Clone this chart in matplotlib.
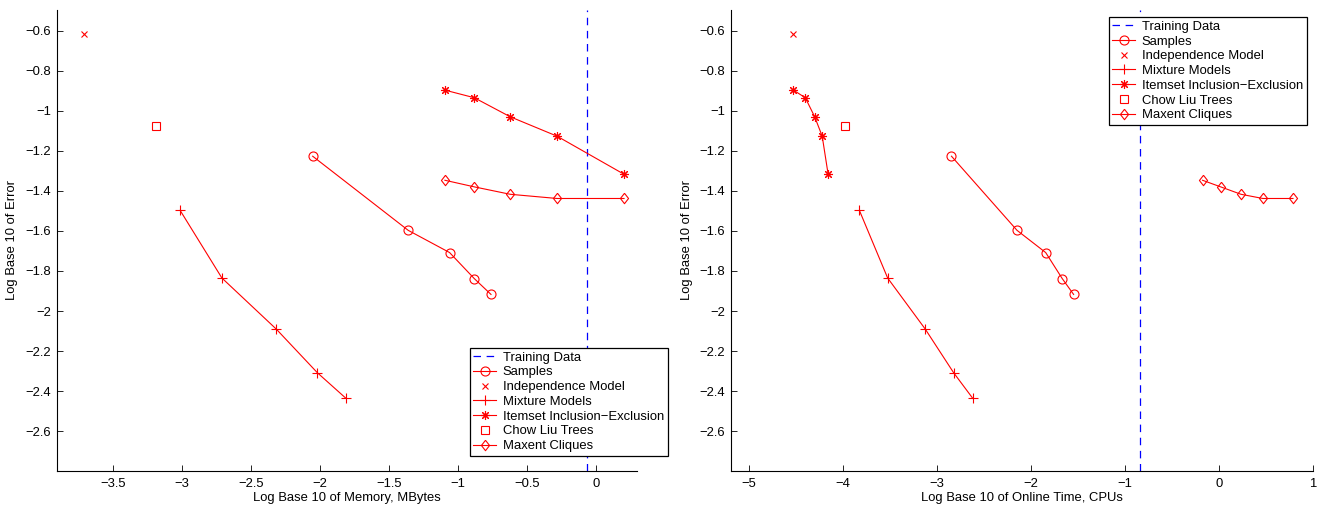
import matplotlib
matplotlib.use("Agg")
import matplotlib.pyplot as plt

plt.rcParams['font.family'] = ['Liberation Sans', 'DejaVu Sans']

# ---- data: left panel (memory) ----
mem_train = -0.067
mem_samples_x = [-2.053, -1.361, -1.061, -0.882, -0.761]
mem_indep_x = [-3.711]
mem_mix_x = [-3.014, -2.711, -2.317, -2.019, -1.813]
mem_item_x = [-1.095, -0.882, -0.622, -0.282, 0.203]
mem_chow_x = [-3.19]
mem_maxent_x = [-1.095, -0.882, -0.622, -0.282, 0.203]

# ---- data: right panel (online time) ----
cpu_train = -0.845
cpu_samples_x = [-2.845, -2.148, -1.843, -1.667, -1.546]
cpu_indep_x = [-4.53]
cpu_mix_x = [-3.825, -3.524, -3.124, -2.822, -2.62]
cpu_item_x = [-4.526, -4.40, -4.30, -4.22, -4.157]
cpu_chow_x = [-3.982]
cpu_maxent_x = [-0.175, 0.018, 0.234, 0.467, 0.787]

# ---- shared errors ----
err_samples = [-1.227, -1.597, -1.708, -1.838, -1.917]
err_indep = [-0.618]
err_mix = [-1.497, -1.835, -2.09, -2.308, -2.435]
err_item = [-0.897, -0.935, -1.03, -1.127, -1.317]
err_chow = [-1.077]
err_maxent = [-1.347, -1.38, -1.417, -1.438, -1.438]

labels = ["Training Data", "Samples", "Independence Model", "Mixture Models",
          "Itemset Inclusion\u2212Exclusion", "Chow Liu Trees", "Maxent Cliques"]

y_ticks = [-0.6, -0.8, -1, -1.2, -1.4, -1.6, -1.8, -2, -2.2, -2.4, -2.6]
y_ticklabels = ["\u22120.6", "\u22120.8", "\u22121", "\u22121.2", "\u22121.4", "\u22121.6",
                "\u22121.8", "\u22122", "\u22122.2", "\u22122.4", "\u22122.6"]
mem_ticks = [-3.5, -3, -2.5, -2, -1.5, -1, -0.5, 0]
mem_ticklabels = ["\u22123.5", "\u22123", "\u22122.5", "\u22122", "\u22121.5", "\u22121", "\u22120.5", "0"]
cpu_ticks = [-5, -4, -3, -2, -1, 0, 1]
cpu_ticklabels = ["\u22125", "\u22124", "\u22123", "\u22122", "\u22121", "0", "1"]

RED = (1, 0, 0)
BLUE = (0, 0, 1)
FS = 9.4
W, H = 1329, 508

fig = plt.figure(figsize=(W / 100, H / 100), dpi=100)
top_px, bot_px = 10, 470.7
axL = fig.add_axes([56.7 / W, 1 - bot_px / H, (637 - 56.7) / W, (bot_px - top_px) / H])
axR = fig.add_axes([731 / W, 1 - bot_px / H, (1313 - 731) / W, (bot_px - top_px) / H])

star = (8, 2, 0)
diamond = [(0, 1), (0.78, 0), (0, -1), (-0.78, 0), (0, 1)]

def draw(ax, train, sx, ix, mx, itx, cx, mxx):
    h = []
    h.append(ax.axvline(train, color=BLUE, ls=(0, (6, 4.5)), lw=0.9))
    h.append(ax.plot(sx, err_samples, '-', color=RED, lw=0.8, marker='o', ms=6.5,
                     mfc='none', mec=RED, mew=0.8)[0])
    h.append(ax.plot(ix, err_indep, ls='none', marker='x', ms=4.5, mec=RED, mew=0.8)[0])
    h.append(ax.plot(mx, err_mix, '-', color=RED, lw=0.8, marker='+', ms=7, mew=0.8)[0])
    h.append(ax.plot(itx, err_item, '-', color=RED, lw=0.8, marker=star, ms=6.5, mew=0.8)[0])
    h.append(ax.plot(cx, err_chow, ls='none', marker='s', ms=5.5, mfc='none', mec=RED, mew=0.8)[0])
    h.append(ax.plot(mxx, err_maxent, '-', color=RED, lw=0.8, marker=diamond, ms=7.5,
                     mfc='none', mec=RED, mew=0.8)[0])
    ax.set_ylim(-2.797, -0.497)
    ax.set_yticks(y_ticks)
    ax.set_yticklabels(y_ticklabels)
    ax.set_ylabel("Log Base 10 of Error", fontsize=FS, labelpad=5)
    for s in ('top', 'right'):
        ax.spines[s].set_visible(False)
    for s in ('left', 'bottom'):
        ax.spines[s].set_linewidth(0.8)
    ax.tick_params(direction='in', length=4, width=0.6, labelsize=FS)
    ax.tick_params(axis='y', pad=4)
    ax.tick_params(axis='x', pad=5)
    return h

hL = draw(axL, mem_train, mem_samples_x, mem_indep_x, mem_mix_x, mem_item_x, mem_chow_x, mem_maxent_x)
axL.set_xlim(-3.908, 0.297)
axL.set_xticks(mem_ticks)
axL.set_xticklabels(mem_ticklabels)
axL.set_xlabel("Log Base 10 of Memory, MBytes", fontsize=FS, labelpad=2)

hR = draw(axR, cpu_train, cpu_samples_x, cpu_indep_x, cpu_mix_x, cpu_item_x, cpu_chow_x, cpu_maxent_x)
axR.set_xlim(-5.19, 1.0)
axR.set_xticks(cpu_ticks)
axR.set_xticklabels(cpu_ticklabels)
axR.set_xlabel("Log Base 10 of Online Time, CPUs", fontsize=FS, labelpad=2)

def leg(ax, h, loc, anchor):
    lg = ax.legend(h, labels, loc=loc, bbox_to_anchor=anchor, bbox_transform=fig.transFigure,
                   fontsize=FS, frameon=True, fancybox=False, framealpha=1, edgecolor='black',
                   borderpad=0.3, labelspacing=0.2, handlelength=1.7, handletextpad=0.55,
                   borderaxespad=0)
    lg.get_frame().set_linewidth(0.9)
    lg.set_zorder(10)
    return lg

leg(axL, hL, 'lower right', (668 / W, 1 - 456 / H))
leg(axR, hR, 'upper right', (1307 / W, 1 - 16.7 / H))

fig.savefig("out.png", dpi=100)
